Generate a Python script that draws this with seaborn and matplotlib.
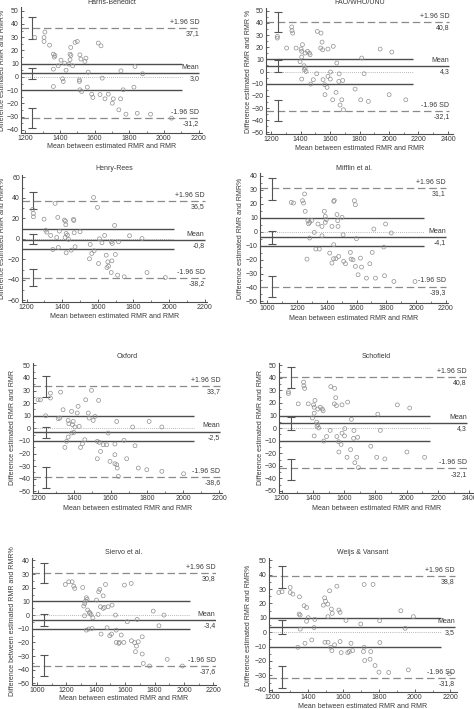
import matplotlib
matplotlib.use("Agg")
import matplotlib.pyplot as plt
import seaborn as sns
import pandas as pd
from matplotlib.ticker import MultipleLocator

# Bland-Altman data: (mean of estimated RMR and RMR, difference %)
hb_points = [(1254, 29.8), (1308, 29.8), (1308, 26.8), (1313, 33.9), (1340, 24.0), (1362, 17.2),
             (1371, 16.2), (1367, 15.0), (1362, 5.9), (1362, -7.2), (1390, 8.4), (1406, 12.7),
             (1415, -1.4), (1419, -3.4), (1427, 10.4), (1435, 5.1), (1452, 9.7), (1458, 17.2),
             (1463, 16.2), (1458, 13.0), (1462, 22.3), (1473, 8.4), (1487, 26.1), (1500, 26.8),
             (1515, 16.7), (1521, 13.5), (1512, -2.2), (1512, -3.4), (1515, -9.7), (1525, -11.0),
             (1544, 11.7), (1550, 14.2), (1563, 3.6), (1558, -7.7), (1583, -13.0), (1590, -15.5),
             (1621, 25.6), (1637, 23.5), (1631, -13.3), (1644, -0.9), (1660, -16.5), (1679, -13.0),
             (1702, -19.8), (1708, -16.5), (1740, -24.8), (1750, -16.5), (1752, 4.6), (1765, -9.7),
             (1781, -28.1), (1827, -7.7), (1833, 7.9), (1846, -27.4), (1877, 2.4), (1923, -28.1),
             (2044, -31.1)]
fao_points = [(1243, 28.9), (1243, 27.5), (1340, 36.6), (1342, 33.6), (1347, 31.6), (1306, 19.3),
              (1370, 19.3), (1404, 18.5), (1408, 16.6), (1413, 22.1), (1408, 11.9), (1397, 8.1),
              (1408, -6.2), (1424, 4.8), (1431, 2.9), (1426, 1.5), (1437, 0.1), (1431, 15.2),
              (1447, 16.6), (1460, 15.2), (1465, 13.8), (1469, -10.3), (1487, -6.7), (1510, -1.8),
              (1514, 33.0), (1539, 31.6), (1546, 24.2), (1537, 19.3), (1550, 17.9), (1553, -6.7),
              (1564, -10.8), (1566, -19.0), (1580, -13.0), (1586, -4.0), (1586, 18.5), (1604, -0.4),
              (1602, -6.2), (1622, 20.7), (1618, -23.2), (1641, -17.1), (1646, 7.0), (1660, -8.1),
              (1662, -1.9), (1680, -23.2), (1668, -27.5), (1686, -7.3), (1691, -31.4), (1770, -14.4),
              (1808, -23.2), (1815, 11.1), (1831, -1.8), (1860, -24.5), (1940, 18.5), (2001, -19.0),
              (2019, 16.0), (2114, -23.2)]
henry_points = [(1234, 28.7), (1238, 24.8), (1238, 21.5), (1298, 19.2), (1307, 8.5), (1313, 6.5),
                (1360, 34.6), (1335, 3.3), (1347, -10.4), (1375, 20.9), (1384, 7.5), (1369, 1.3),
                (1378, -8.5), (1412, 18.3), (1418, 17.3), (1420, 13.7), (1416, 1.3), (1422, 5.2),
                (1429, 3.6), (1435, -0.6), (1422, -13.7), (1450, -11.1), (1463, 18.9), (1465, 17.9),
                (1467, 5.9), (1472, -7.8), (1500, 6.9), (1553, -19.5), (1557, -5.5), (1566, -14.3),
                (1576, 40.4), (1579, -11.7), (1598, 30.7), (1604, -24.1), (1609, 0.0), (1623, -3.9),
                (1638, 3.3), (1647, -16.0), (1651, -28.1), (1660, -26.7), (1656, -22.5), (1675, -2.9),
                (1681, -4.5), (1679, -21.5), (1675, -32.9), (1698, -15.3), (1694, 13.1), (1716, -2.9),
                (1711, -35.5), (1748, -37.1), (1778, 3.0), (1848, 0.3), (1876, -32.9), (1979, -37.8)]
mifflin_points = [(1160, 20.9), (1176, 20.4), (1236, 22.1), (1243, 20.4), (1250, 26.9), (1254, 14.5),
                  (1266, -19.7), (1272, 7.8), (1277, 5.6), (1284, 6.6), (1284, -4.6), (1299, 8.0),
                  (1315, -0.6), (1326, -12.5), (1349, -12.5), (1340, 5.4), (1367, 3.7), (1367, -3.0),
                  (1383, 14.5), (1389, 6.6), (1396, 8.5), (1389, 10.9), (1419, -15.4), (1434, 3.7),
                  (1434, -22.5), (1445, -19.4), (1446, 21.6), (1450, 22.3), (1446, -9.4), (1461, -19.4),
                  (1468, 12.2), (1473, 7.8), (1475, 3.7), (1479, -17.8), (1502, 10.2), (1509, -2.3),
                  (1513, -21.3), (1525, -23.0), (1558, -14.9), (1563, -19.7), (1576, -20.2), (1585, 22.1),
                  (1592, 19.2), (1592, -24.9), (1599, -5.1), (1610, -30.9), (1626, -19.0), (1633, -25.4),
                  (1666, -33.3), (1689, -23.0), (1705, -14.9), (1716, 1.8), (1727, -33.3), (1783, -11.1),
                  (1788, -31.6), (1795, 5.4), (1833, -1.0), (1851, -35.7), (1993, -35.7)]
oxford_points = [(1200, 22.7), (1213, 22.7), (1242, 10.0), (1268, 28.0), (1268, 24.1), (1324, 28.8),
                 (1338, 14.8), (1311, 7.7), (1320, 8.2), (1348, -15.1), (1357, -10.3), (1366, 6.3),
                 (1370, 3.7), (1366, -6.9), (1385, 13.5), (1390, 2.9), (1385, -3.7), (1394, 5.5),
                 (1403, 1.1), (1397, -3.2), (1416, 12.2), (1421, 17.5), (1427, 1.6), (1434, -15.1),
                 (1445, -12.2), (1458, -9.0), (1463, 22.7), (1477, 12.2), (1482, 8.2), (1495, 30.2),
                 (1504, 6.3), (1514, 9.5), (1527, -10.3), (1538, -11.1), (1534, 22.2), (1527, -24.1),
                 (1545, -18.3), (1560, -13.0), (1578, -13.0), (1587, -3.7), (1597, -26.2), (1624, -12.4),
                 (1624, -20.9), (1624, -28.1), (1634, -28.8), (1637, -31.5), (1634, 5.5), (1643, -38.1),
                 (1674, -9.5), (1689, -24.1), (1722, 1.1), (1735, -13.8), (1753, -31.5), (1800, -32.8),
                 (1813, 5.5), (1883, -34.1), (1883, 1.1), (2003, -36.0)]
schofield_points = fao_points
siervo_points = [(1193, 22.4), (1216, 24.4), (1239, 24.4), (1250, 21.2), (1257, 19.5), (1311, 20.2),
                 (1325, 8.5), (1318, 6.6), (1330, 10.2), (1336, 12.7), (1341, 11.5), (1323, -0.5),
                 (1345, 3.7), (1357, 2.0), (1368, 0.5), (1359, 1.2), (1336, -11.0), (1352, -10.2),
                 (1375, -9.8), (1380, -2.0), (1405, 11.0), (1416, 0.5), (1420, 17.1), (1427, 18.8),
                 (1432, 6.1), (1436, -13.9), (1450, 14.1), (1450, 4.9), (1459, 5.6), (1466, 22.4),
                 (1477, -9.3), (1484, 6.1), (1495, -15.1), (1507, -13.9), (1511, 7.3), (1534, 0.0),
                 (1539, -11.0), (1539, -20.0), (1561, -20.0), (1557, -20.7), (1573, -14.6), (1591, -20.0),
                 (1595, 22.0), (1614, -4.9), (1641, 23.2), (1643, -18.8), (1664, -20.2), (1682, -3.2),
                 (1677, -22.7), (1689, -19.5), (1716, -15.9), (1716, -28.5), (1723, -35.4), (1670, -26.8),
                 (1766, -37.3), (1791, 2.9), (1830, -7.8), (1864, 0.0), (1886, -32.4), (1989, -37.3)]
weijs_points = [(1237, 27.6), (1255, 28.1), (1301, 31.1), (1301, 27.6), (1316, 26.5), (1353, 24.6),
                (1351, 12.6), (1357, 11.9), (1357, 2.2), (1344, -10.5), (1379, 18.4), (1393, 17.2),
                (1384, -7.7), (1393, 7.6), (1402, 10.1), (1422, -5.4), (1439, 8.9), (1435, 3.2),
                (1487, 18.8), (1494, 23.9), (1499, 21.6), (1496, -7.0), (1512, 19.5), (1513, -7.0),
                (1513, 10.8), (1522, 28.8), (1532, 16.1), (1537, 13.1), (1528, -10.5), (1535, -12.8),
                (1550, -8.8), (1563, 32.0), (1574, 15.4), (1581, 13.8), (1581, -6.5), (1587, -14.2),
                (1614, 8.2), (1624, -14.2), (1633, -13.5), (1642, -7.7), (1651, -12.8), (1697, 5.7),
                (1716, 33.2), (1712, -13.5), (1719, -19.7), (1716, -10.5), (1749, -18.8), (1753, -13.5),
                (1766, 33.2), (1777, -23.2), (1799, -27.8), (1804, -7.2), (1803, 8.0), (1854, -28.0),
                (1922, 14.9), (1946, 2.7), (1964, -26.2), (1992, 10.8), (2195, -28.9)]

# (+1.96 SD, mean, -1.96 SD)
hb_stats = (37.1, 3.0, -31.2)
fao_stats = (40.8, 4.3, -32.1)
henry_stats = (36.5, -0.8, -38.2)
mifflin_stats = (31.1, -4.1, -39.3)
oxford_stats = (33.7, -2.5, -38.6)
schofield_stats = (40.8, 4.3, -32.1)
siervo_stats = (30.8, -3.4, -37.6)
weijs_stats = (38.8, 3.5, -31.8)

# confidence intervals (upper limit, mean, lower limit)
hb_ci = [(28.8, 45.2), (-1.7, 7.1), (-38.7, -23.1)]
fao_ci = [(32.5, 48.9), (-0.7, 9.2), (-40.4, -23.7)]
henry_ci = [(28.7, 45.3), (-5.2, 4.6), (-46.0, -29.0)]
mifflin_ci = [(22.3, 38.3), (-8.7, 0.1), (-47.1, -31.6)]
oxford_ci = [(24.6, 41.3), (-7.9, 1.1), (-47.4, -30.7)]
schofield_ci = [(32.2, 48.7), (-1.2, 8.9), (-41.0, -24.3)]
siervo_ci = [(23.2, 38.5), (-7.8, 0.7), (-44.6, -29.3)]
weijs_ci = [(30.4, 46.1), (-1.5, 8.2), (-38.9, -23.2)]

ylab = "Difference estimated RMR and RMR%"
panels = [
    dict(title="Harris-Benedict", pts=hb_points, stats=hb_stats, ci=hb_ci, ylabel=ylab,
         box=(21, 7, 202, 133), xlim=(1175, 2220), ylim=(-42.3, 52.8), xt=(1200, 2200), ystep=10,
         ci_x=1237, short=2102, long=2204, title_y=2, xlab_y=146, ylab_x=3),
    dict(title="FAO/WHO/UNU", pts=fao_points, stats=fao_stats, ci=fao_ci, ylabel="Difference estimated RMR and RMR %",
         box=(266, 8, 453, 134), xlim=(1166, 2434), ylim=(-51.3, 52.2), xt=(1200, 2400), ystep=10,
         ci_x=1250, short=2166, long=2410, title_y=2, xlab_y=149, ylab_x=249),
    dict(title="Henry-Rees", pts=henry_points, stats=henry_stats, ci=henry_ci, ylabel=ylab,
         box=(22, 175, 207, 302), xlim=(1174, 2213), ylim=(-61.7, 62.3), xt=(1200, 2200), ystep=20,
         ci_x=1238, short=2026, long=2199, title_y=168, xlab_y=316, ylab_x=3),
    dict(title="Mifflin et al.", pts=mifflin_points, stats=mifflin_stats, ci=mifflin_ci, ylabel=ylab,
         box=(260, 173, 448, 303), xlim=(950, 2215), ylim=(-51.1, 41.9), xt=(1000, 2200), ystep=10,
         ci_x=1029, short=2053, long=2200, title_y=168, xlab_y=318, ylab_x=241),
    dict(title="Oxford", pts=oxford_points, stats=oxford_stats, ci=oxford_ci, ylabel="Difference estimated RMR and RMR",
         box=(33, 363, 222, 493), xlim=(1172, 2215), ylim=(-51.3, 51.9), xt=(1200, 2200), ystep=10,
         ci_x=1242, short=2058, long=2206, title_y=357, xlab_y=509, ylab_x=13),
    dict(title="Schofield", pts=schofield_points, stats=schofield_stats, ci=schofield_ci, ylabel="Difference estimated RMR and RMR",
         box=(279, 363, 474, 493), xlim=(1183, 2430), ylim=(-51.6, 51.8), xt=(1200, 2400), ystep=10,
         ci_x=1257, short=2151, long=2385, title_y=356, xlab_y=509, ylab_x=260),
    dict(title="Siervo et al.", pts=siervo_points, stats=siervo_stats, ci=siervo_ci, ylabel="Difference between estimated RMR and RMR%",
         box=(32, 558, 216, 685), xlim=(966, 2218), ylim=(-51.2, 41.8), xt=(1000, 2200), ystep=10,
         ci_x=1050, short=2041, long=2215, title_y=552, xlab_y=699, ylab_x=13),
    dict(title="Weijs & Vansant", pts=weijs_points, stats=weijs_stats, ci=weijs_ci, ylabel=ylab,
         box=(269, 558, 457, 692), xlim=(1182, 2237), ylim=(-41.6, 51.6), xt=(1200, 2200), ystep=10,
         ci_x=1255, short=2149, long=2225, title_y=552, xlab_y=707, ylab_x=249),
]

W, H = 474, 709
sns.set_theme(style="ticks")
plt.rcParams['font.family'] = ['Liberation Sans', 'DejaVu Sans']
fig = plt.figure(figsize=(W / 100, H / 100), dpi=100)

txt = '#3a3a3a'
fs = 5.0

def fmt(v):
    return f"{v:.1f}".replace('.', ',')

for p in panels:
    x0, y0, x1, y1 = p['box']
    ax = fig.add_axes([x0 / W, 1 - y1 / H, (x1 - x0) / W, (y1 - y0) / H])
    df = pd.DataFrame(p['pts'], columns=['mean_rmr', 'diff'])
    sns.scatterplot(data=df, x='mean_rmr', y='diff', ax=ax, s=8, facecolors='none',
                    edgecolor='#8f8f8f', linewidth=0.5, zorder=3)
    xmin = p['xlim'][0]
    hi, mean, lo = p['stats']
    ax.hlines([10, -10], xmin, p['short'], color='#4d4d4d', lw=1.0)
    ax.hlines(0, xmin, p['short'], color='#a0a0a0', lw=0.6, linestyles=(0, (1, 1.5)))
    ax.hlines(mean, xmin, p['long'], color='#4d4d4d', lw=1.0)
    ax.hlines([hi, lo], xmin, p['long'], color='#8a8a8a', lw=0.9, linestyles=(0, (6, 3)))
    for lo_ci, hi_ci in p['ci']:
        ax.errorbar(p['ci_x'], (lo_ci + hi_ci) / 2, yerr=(hi_ci - lo_ci) / 2, fmt='none',
                    ecolor='#555555', elinewidth=0.8, capsize=2.6, capthick=0.8)
    for val, top, bottom in [(hi, '+1.96 SD', fmt(hi)), (mean, 'Mean', fmt(mean)), (lo, '-1.96 SD', fmt(lo))]:
        ax.annotate(top, (p['long'], val), xytext=(0, 1.5), textcoords='offset points',
                    ha='right', va='bottom', fontsize=fs, color=txt)
        ax.annotate(bottom, (p['long'], val), xytext=(0, -1.5), textcoords='offset points',
                    ha='right', va='top', fontsize=fs, color=txt)
    ax.set_xlim(*p['xlim'])
    ax.set_ylim(*p['ylim'])
    ax.set_xticks(range(p['xt'][0], p['xt'][1] + 1, 200))
    ax.xaxis.set_minor_locator(MultipleLocator(100))
    ax.yaxis.set_major_locator(MultipleLocator(p['ystep']))
    ax.yaxis.set_minor_locator(MultipleLocator(p['ystep'] / 2))
    ax.tick_params(labelsize=fs, colors='#4d4d4d', labelcolor=txt, direction='in',
                   length=2.2, width=0.6, pad=1.5)
    ax.tick_params(which='minor', direction='in', length=1.3, width=0.5, colors='#4d4d4d')
    ax.set_xlabel('')
    ax.set_ylabel('')
    sns.despine(ax=ax)
    for s in ('left', 'bottom'):
        ax.spines[s].set_linewidth(0.8)
        ax.spines[s].set_color('#4d4d4d')
    cx = (x0 + x1) / 2 / W
    fig.text(cx, 1 - p['title_y'] / H, p['title'], ha='center', va='center', fontsize=fs, color=txt)
    fig.text(cx, 1 - p['xlab_y'] / H, 'Mean between estimated RMR and RMR', ha='center', va='center',
             fontsize=fs, color=txt)
    fig.text(p['ylab_x'] / W, 1 - (y0 + y1) / 2 / H, p['ylabel'], ha='center', va='center',
             rotation=90, fontsize=fs, color=txt)

fig.savefig('out.png', dpi=100)
